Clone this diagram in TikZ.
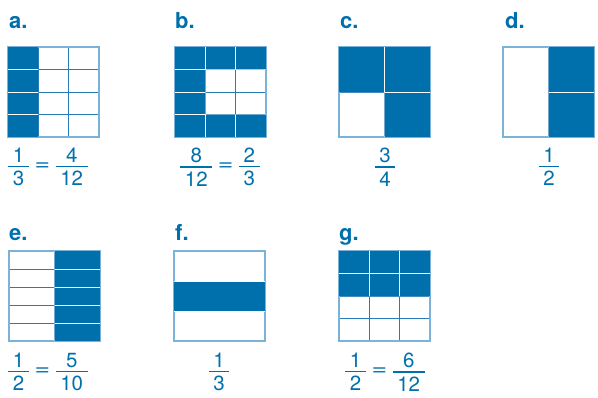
\documentclass[tikz,border=0pt]{standalone}
\usepackage{fontspec}
\usepackage{graphicx}
\setmainfont{TeX Gyre Heros}
\definecolor{cellblue}{RGB}{0,112,173}
\definecolor{linemid}{RGB}{40,122,182}
\definecolor{linelight}{RGB}{122,178,216}
\tikzset{
  gridline/.style={linemid, line width=0.9pt},
  gridedge/.style={linelight, line width=1.1pt},
  sepline/.style={white, line width=0.8pt},
  panellabel/.style={anchor=base west, inner sep=0pt, text=cellblue, font=\fontsize{22}{26}\selectfont\bfseries},
  fraclabel/.style={inner sep=0pt, text=cellblue, font=\fontsize{20.5}{24}\selectfont}
}
% stacked fraction with a thick bar
\newcommand{\fr}[2]{\ensuremath{\vcenter{\offinterlineskip\ialign{\hfil\kern4.5pt##\kern4.5pt\hfil\cr #1\cr\noalign{\kern3.5pt\hrule height1.3pt\kern4pt}#2\cr}}}}
\newcommand{\eqsign}{\mathrel{\raisebox{2pt}{\scalebox{1.3}[1]{=}}}}
% a 91 x 90 square cut into cols x rows cells, the listed cells shaded
\newcommand{\shadegrid}[4]{%
  \begin{scope}[shift={#1}]
    \pgfmathsetmacro\cw{91/#2}
    \pgfmathsetmacro\ch{90/#3}
    % lines of the white cells
    \foreach \i in {1,...,#2}{\ifnum\i<#2 \draw[gridline] ({\i*\cw},0) -- ({\i*\cw},90);\fi}
    \foreach \j in {1,...,#3}{\ifnum\j<#3 \draw[gridline] (0,{\j*\ch}) -- (91,{\j*\ch});\fi}
    \draw[gridedge] (0,0) rectangle (91,90);
    % shaded cells, split by white lines
    \foreach \col/\row in {#4}
      \fill[cellblue] ({(\col-1)*\cw},{(\row-1)*\ch}) rectangle ++(\cw,\ch);
    \begin{scope}
      \clip \foreach \col/\row in {#4} {({(\col-1)*\cw},{(\row-1)*\ch}) rectangle ++(\cw,\ch)};
      \foreach \i in {1,...,#2}{\ifnum\i<#2 \draw[sepline] ({\i*\cw},0) -- ({\i*\cw},90);\fi}
      \foreach \j in {1,...,#3}{\ifnum\j<#3 \draw[sepline] (0,{\j*\ch}) -- (91,{\j*\ch});\fi}
    \end{scope}
  \end{scope}}
\begin{document}
\begin{tikzpicture}[x=1pt, y=-1pt]
  \useasboundingbox (0,0) rectangle (598,397);

  % top row
  \node[panellabel] (la) at (9,28) {a.};
  \shadegrid{(8,47)}{3}{4}{1/1,1/2,1/3,1/4}
  \node[fraclabel] (fa) at (48,167) {$\fr{1}{3}\eqsign\fr{4}{12}$};

  \node[panellabel] (lb) at (175,28) {b.};
  \shadegrid{(175,47)}{3}{4}{1/1,2/1,3/1,1/2,1/3,1/4,2/4,3/4}
  \node[fraclabel] (fb) at (220,167) {$\fr{8}{12}\eqsign\fr{2}{3}$};

  \node[panellabel] (lc) at (340,28) {c.};
  \shadegrid{(339,47)}{2}{2}{1/1,2/1,2/2}
  \node[fraclabel] (fc) at (385,167) {$\fr{3}{4}$};

  \node[panellabel] (ld) at (505,28) {d.};
  \shadegrid{(503,47)}{2}{1}{2/1}
  \draw[sepline] (548.5,92) -- (594,92);
  \node[fraclabel] (fd) at (549,167) {$\fr{1}{2}$};

  % bottom row
  \node[panellabel] (le) at (9,240) {e.};
  \shadegrid{(9,251)}{2}{5}{2/1,2/2,2/3,2/4,2/5}
  \node[fraclabel] (fe) at (48,372) {$\fr{1}{2}\eqsign\fr{5}{10}$};

  \node[panellabel] (lf) at (175,240) {f.};
  \shadegrid{(174,251)}{1}{3}{1/2}
  \node[fraclabel] (ff) at (219,372) {$\fr{1}{3}$};

  \node[panellabel] (lg) at (339,240) {g.};
  \shadegrid{(339,251)}{3}{4}{1/1,2/1,3/1,1/2,2/2,3/2}
  \node[fraclabel] (fg) at (385,372) {$\fr{1}{2}\eqsign\fr{6}{12}$};
\end{tikzpicture}
\end{document}
